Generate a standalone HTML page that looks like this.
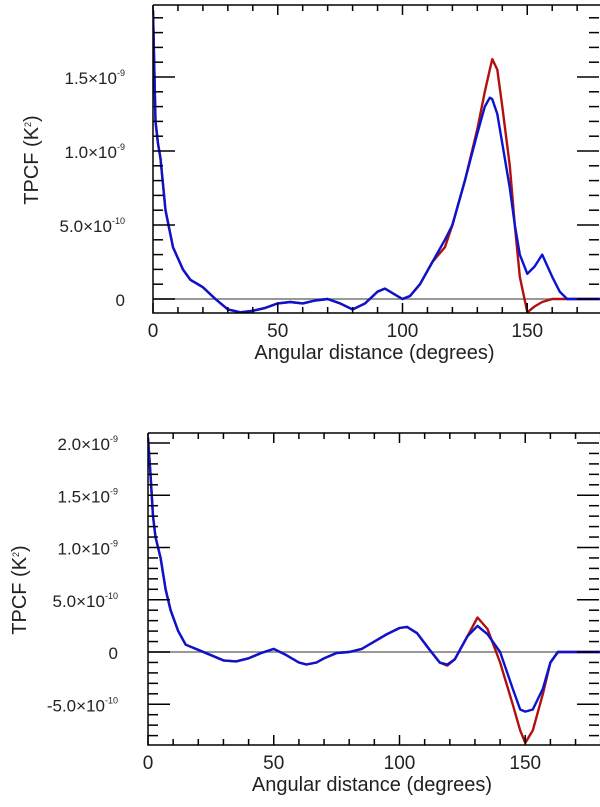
<!DOCTYPE html>
<html><head><meta charset="utf-8"><style>
body{margin:0;background:#fff;}
svg text{font-family:"Liberation Sans",sans-serif;fill:#222;}
</style></head><body>
<svg id="s" width="600" height="802" xmlns="http://www.w3.org/2000/svg"></svg>
<script>
const xTicks=[0,50,100,150];
const angTop=[0,1,2,3,5,8,12,15,20,25,30,35,40,45,50,55,60,65,70,75,80,85,90,93,97,100,103,107,112,117,120,125,130,133,135,136,138,140,143,145,147,150,153,156,160,163,166,170,180];
const redTop=[1.95,1.2,1.05,0.95,0.6,0.35,0.2,0.13,0.08,0,-0.07,-0.09,-0.08,-0.06,-0.03,-0.02,-0.03,-0.01,0,-0.03,-0.07,-0.03,0.05,0.07,0.03,0,0.02,0.1,0.25,0.35,0.5,0.8,1.15,1.4,1.55,1.62,1.55,1.3,0.9,0.5,0.15,-0.09,-0.05,-0.02,0,0,0,0,0];
const blueTop=[1.95,1.2,1.05,0.95,0.6,0.35,0.2,0.13,0.08,0,-0.07,-0.09,-0.08,-0.06,-0.03,-0.02,-0.03,-0.01,0,-0.03,-0.07,-0.03,0.05,0.07,0.03,0,0.02,0.1,0.25,0.4,0.5,0.8,1.12,1.3,1.36,1.35,1.25,1.05,0.75,0.5,0.3,0.17,0.22,0.3,0.15,0.05,0,0,0];
const angBot=[0,1,2,3,5,7,9,12,15,20,25,30,35,40,45,50,55,60,63,67,70,75,80,85,90,95,100,103,107,112,116,119,122,127,131,135,140,145,148,150,153,157,160,163,170,180];
const redBot=[2.05,1.7,1.3,1.1,0.9,0.6,0.4,0.2,0.07,0.02,-0.03,-0.08,-0.09,-0.06,-0.01,0.03,-0.03,-0.1,-0.12,-0.1,-0.06,-0.01,0,0.03,0.1,0.17,0.23,0.24,0.18,0.02,-0.1,-0.13,-0.07,0.15,0.33,0.22,-0.1,-0.5,-0.75,-0.87,-0.75,-0.4,-0.1,0,0,0];
const blueBot=[2.05,1.7,1.3,1.1,0.9,0.6,0.4,0.2,0.07,0.02,-0.03,-0.08,-0.09,-0.06,-0.01,0.03,-0.03,-0.1,-0.12,-0.1,-0.06,-0.01,0,0.03,0.1,0.17,0.23,0.24,0.18,0.02,-0.1,-0.12,-0.07,0.15,0.25,0.17,0,-0.35,-0.55,-0.57,-0.55,-0.35,-0.1,0,0,0];
const yTicksTop=[0,0.5,1.0,1.5];
const yTicksBot=[-0.5,0,0.5,1.0,1.5,2.0];
const NS="http://www.w3.org/2000/svg";
const svg=document.getElementById('s');
function el(t,a,p){const e=document.createElementNS(NS,t);for(const k in a)e.setAttribute(k,a[k]);(p||svg).appendChild(e);return e;}
function fmt(v){if(v===0)return ['0',''];if(Math.abs(v)>=1)return [v.toFixed(1)+'\u00d710','-9'];return [(v*10).toFixed(1)+'\u00d710','-10'];}
function panel(P){
  const g=el('g',{});
  
  
  const X=a=>P.x0+a*P.sx, Y=v=>P.y0-v*P.sy;
  const clip=el('clipPath',{id:P.name+'-clip'},g);
  el('rect',{x:P.x0,y:P.top,width:P.right-P.x0,height:P.bot-P.top},clip);
  const zl=el('line',{x1:P.x0,x2:P.right,y1:Y(0),y2:Y(0),stroke:'#777','stroke-width':1.5},g);
  
  [[P.red,'#b01010','red-series'],[P.blue,'#0a14d0','blue-series']].forEach(([d,c,n])=>{
    const pts=P.ang.map((a,i)=>X(a).toFixed(1)+','+Y(d[i]).toFixed(1)).join(' ');
    const pl=el('polyline',{points:pts,fill:'none',stroke:c,'stroke-width':2.4,'stroke-linejoin':'round','clip-path':'url(#'+P.name+'-clip)'},g);
    
  });
  const fr=el('path',{d:`M${P.x0},${P.top}V${P.bot}H${P.right}M${P.x0},${P.top}H${P.right}`,fill:'none',stroke:'#000','stroke-width':1.5},g);
  
  for(let a=0;a<=180;a+=10){const big=a%50===0;const x=X(a);
    el('line',{x1:x,x2:x,y1:P.bot,y2:P.bot-(big?10:6),stroke:'#000','stroke-width':1.5},g);
    el('line',{x1:x,x2:x,y1:P.top,y2:P.top+(big?10:6),stroke:'#000','stroke-width':1.5},g);}
  xTicks.forEach(a=>{const t=el('text',{x:X(a),y:P.bot+24,'text-anchor':'middle','font-size':19},g);t.textContent=a;
    });
  for(let v=Math.ceil(P.ymin*10);v<=P.ymax*10;v++){const y=Y(v/10);if(y<P.top||y>P.bot)continue;const big=v%5===0;
    el('line',{x1:P.x0,x2:P.x0+(big?22:10),y1:y,y2:y,stroke:'#000','stroke-width':1.5},g);
    el('line',{x1:599,x2:599-(big?22:10),y1:y,y2:y,stroke:'#000','stroke-width':1.5},g);}
  P.yt.forEach(v=>{const [m,e]=fmt(v);const t=el('text',{x:P.x0-P.lbl,y:Y(v)+7,'text-anchor':'end','font-size':17},g);
    
    const s1=el('tspan',{},t);s1.textContent=m;
    if(e){const s2=el('tspan',{dy:-8,'font-size':9},t);s2.textContent=e;}});
  const xt=el('text',{x:(P.x0+600)/2-2,y:P.bot+46,'text-anchor':'middle','font-size':20},g);xt.textContent='Angular distance (degrees)';
  
  const yt=el('text',{transform:`translate(${P.ylx},${P.ylc}) rotate(-90)`,'text-anchor':'middle','font-size':20},g);
  
  const a=el('tspan',{},yt);a.textContent='TPCF (K';const b=el('tspan',{dy:-7,'font-size':9},yt);b.textContent='2';const c=el('tspan',{dy:7},yt);c.textContent=')';
}
panel({name:'top-panel',x0:153,sx:2.495,y0:299,sy:148,top:5,bot:313,right:602,ymin:-0.09,ymax:1.99,ang:angTop,red:redTop,blue:blueTop,yt:yTicksTop,ylx:38,ylc:160,lbl:28});
panel({name:'bottom-panel',x0:148,sx:2.515,y0:652,sy:104.5,top:433,bot:745,right:602,ymin:-0.88,ymax:2.09,ang:angBot,red:redBot,blue:blueBot,yt:yTicksBot,ylx:26,ylc:590,lbl:30});
</script>
</body></html>
